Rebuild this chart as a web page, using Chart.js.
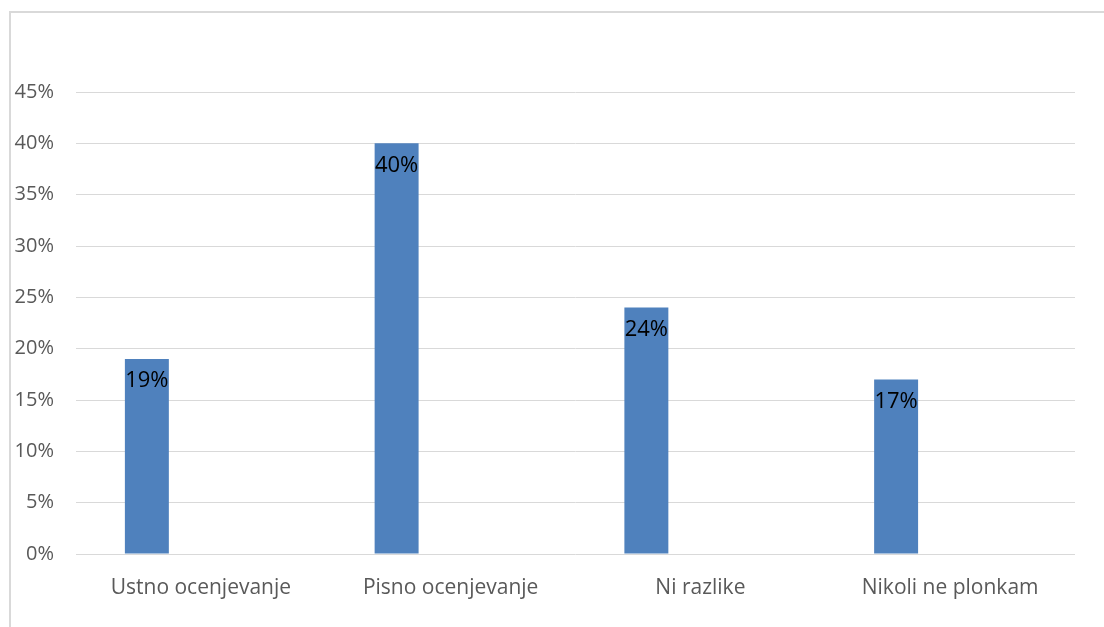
<!DOCTYPE html>
<html>
<head>
<meta charset="utf-8">
<script src="https://cdn.jsdelivr.net/npm/chart.js@4"></script>
<style>
  html, body { margin: 0; padding: 0; background: #fff; }
  #wrap { position: relative; width: 1104px; height: 627px; overflow: hidden; }
  #frame { position: absolute; left: 9px; top: 11px; width: 1200px; height: 700px; border-left: 2px solid #d9d9d9; border-top: 2px solid #d9d9d9; box-sizing: border-box; }
  canvas { position: absolute; left: 0; top: 0; }
</style>
</head>
<body>
<div id="wrap">
  <div id="frame"></div>
  <canvas id="c" width="1104" height="627"></canvas>
</div>
<script>
const categories = ["Ustno ocenjevanje", "Pisno ocenjevanje", "Ni razlike", "Nikoli ne plonkam"];
const shareValues = [19, 40, 24, 17];
const emptySeries = [null, null, null, null];
const yTickMax = 45;
const yTickStep = 5;

const FONT = "'Open Sans', 'DejaVu Sans', sans-serif";

const barLabels = {
  id: 'barLabels',
  afterDatasetsDraw(chart) {
    const ctx = chart.ctx;
    const meta = chart.getDatasetMeta(0);
    ctx.save();
    ctx.font = "22px " + FONT;
    ctx.fillStyle = "#000";
    ctx.textAlign = "center";
    ctx.textBaseline = "middle";
    meta.data.forEach((bar, i) => {
      const v = chart.data.datasets[0].data[i];
      if (v == null) return;
      ctx.fillText(v + "%", bar.x, bar.y + 22);
    });
    ctx.restore();
  }
};

new Chart(document.getElementById('c'), {
  type: 'bar',
  data: {
    labels: categories,
    datasets: [
      { data: shareValues, backgroundColor: '#4f81bd', borderWidth: 0 },
      { data: emptySeries, backgroundColor: '#c0504d', borderWidth: 0 }
    ]
  },
  options: {
    responsive: false,
    animation: false,
    devicePixelRatio: 1,
    layout: { padding: { left: 0, right: 29, top: 92, bottom: 0 } },
    plugins: { legend: { display: false }, tooltip: { enabled: false } },
    datasets: { bar: { categoryPercentage: 0.865, barPercentage: 0.407 } },
    scales: {
      x: {
        grid: { display: false, drawTicks: false },
        border: { display: false },
        ticks: { color: '#595959', font: { family: FONT, size: 21 }, padding: 21, maxRotation: 0 },
        afterFit(scale) { scale.height = 73; }
      },
      y: {
        min: 0, max: yTickMax,
        grid: { color: '#d9d9d9', lineWidth: 1, drawTicks: false },
        border: { display: false },
        ticks: { stepSize: yTickStep, color: '#595959', font: { family: FONT, size: 20 }, padding: 22,
                 callback: v => v + '%' },
        afterFit(scale) { scale.width = 76; }
      }
    }
  },
  plugins: [barLabels]
});
</script>
</body>
</html>
